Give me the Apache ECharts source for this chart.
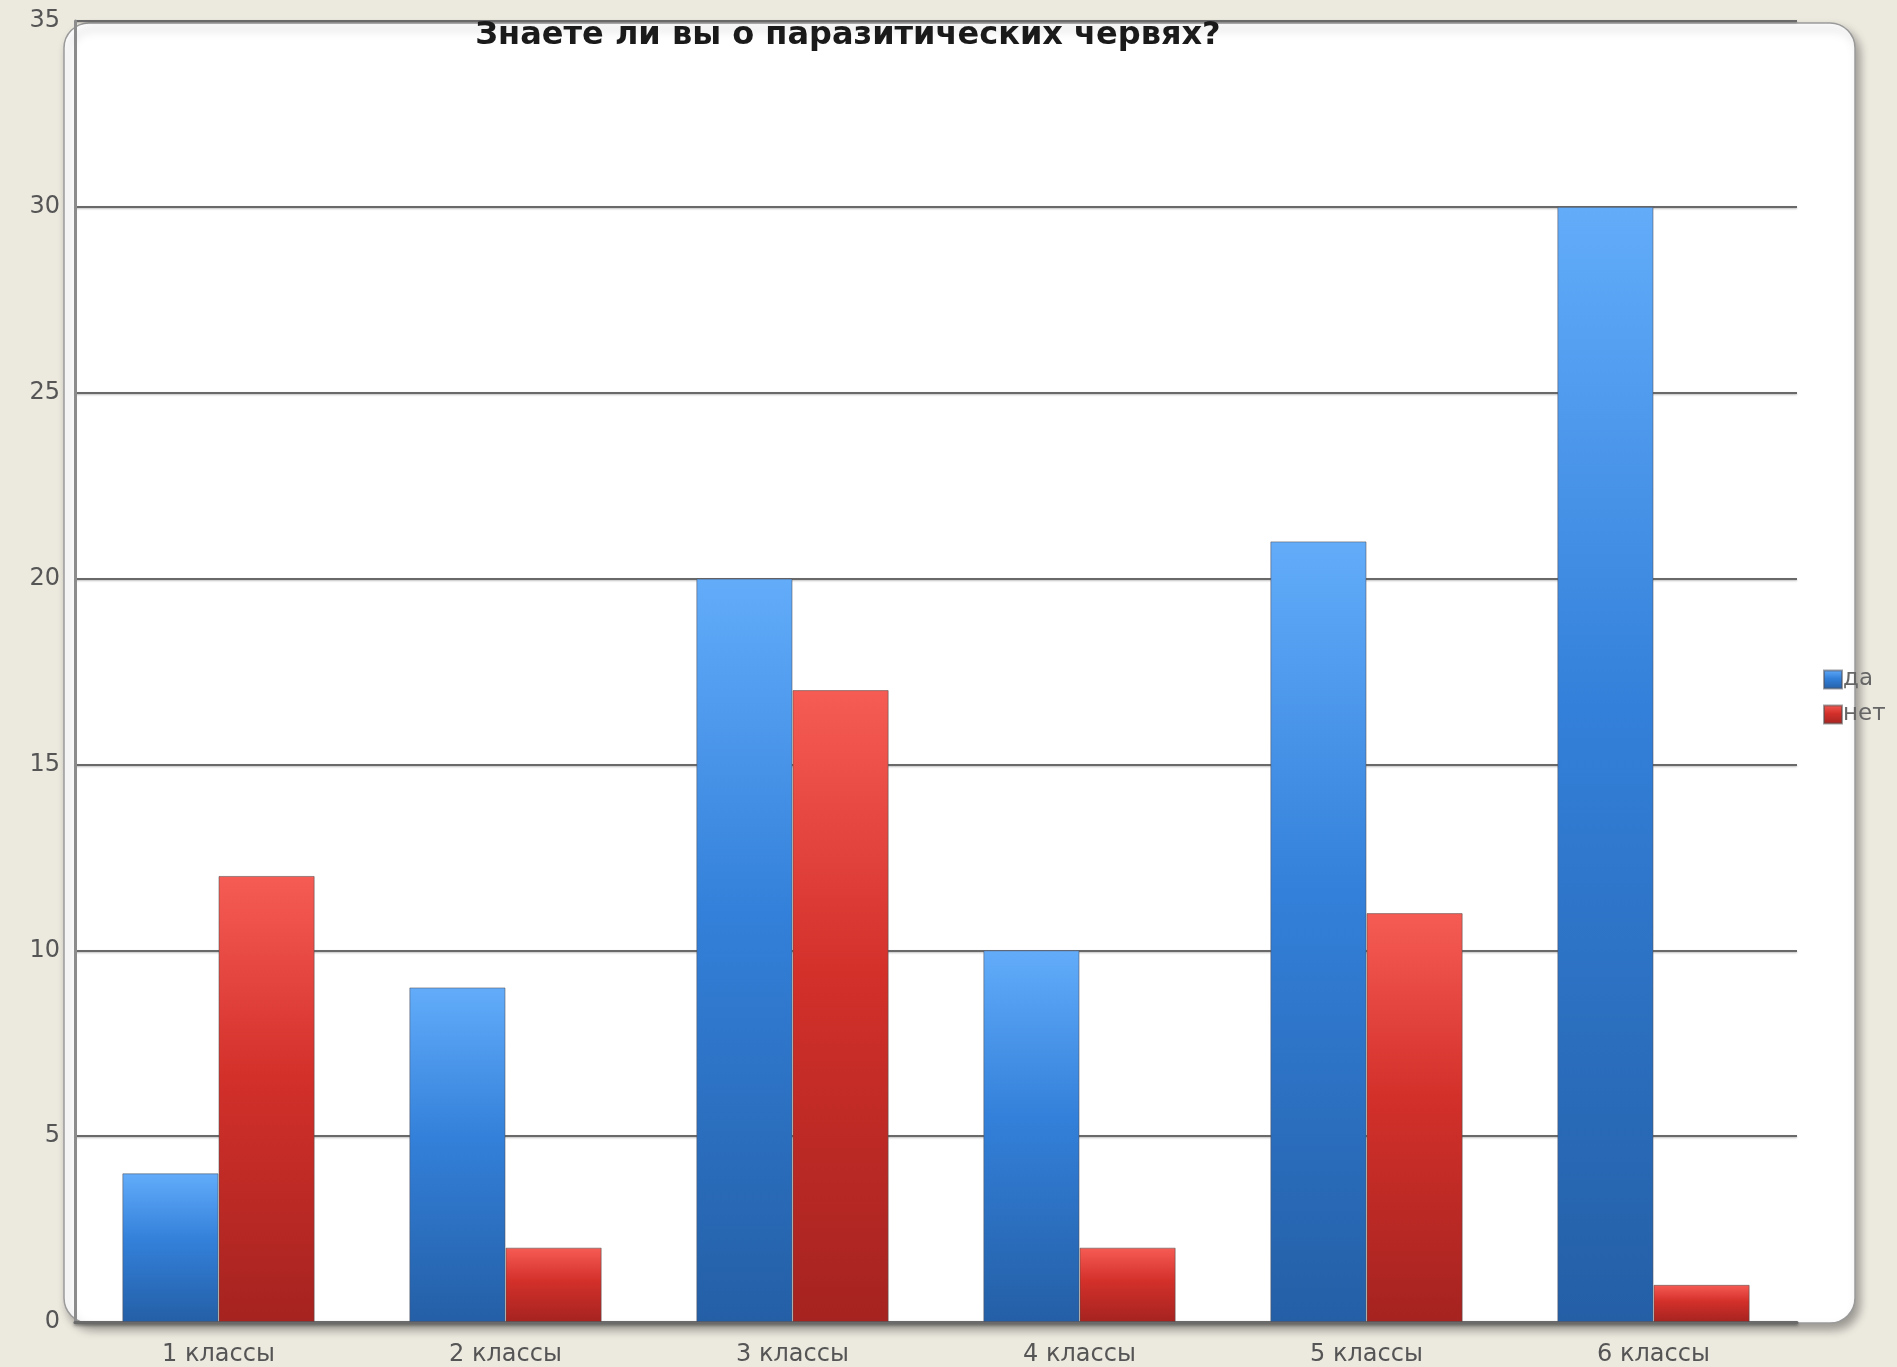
<!DOCTYPE html>
<html>
<head>
<meta charset="utf-8">
<script src="https://cdn.jsdelivr.net/npm/echarts@6/dist/echarts.min.js"></script>
<style>
  html, body { margin: 0; padding: 0; background: #ece9df; }
  #chart { width: 1897px; height: 1367px; }
</style>
</head>
<body>
<div id="chart"></div>
<script>
// данные опроса
const categories = ['1 классы', '2 классы', '3 классы', '4 классы', '5 классы', '6 классы'];
const yesValues = [4, 9, 20, 10, 21, 30];
const noValues = [12, 2, 17, 2, 11, 1];
const titleText = 'Знаете ли вы о паразитических червях?';

const chart = echarts.init(document.getElementById('chart'));

const grad = (top, mid, bottom) => ({
  type: 'linear', x: 0, y: 0, x2: 0, y2: 1,
  colorStops: [
    { offset: 0, color: top },
    { offset: 0.45, color: mid },
    { offset: 1, color: bottom },
  ],
});

const option = {
  backgroundColor: '#ece9df',
  animation: false,
  textStyle: { fontFamily: 'DejaVu Sans' },
  title: {
    text: titleText,
    left: 843,
    textAlign: 'center',
    top: 15,
    textStyle: { fontFamily: 'DejaVu Sans', fontWeight: 'bold', fontSize: 32, color: '#1a1a1a' },
  },
  graphic: [
    {
      type: 'rect',
      z: -10,
      shape: { x: 64, y: 23, width: 1791, height: 1300, r: 25 },
      style: {
        fill: '#ffffff',
        stroke: '#9a9a9a',
        lineWidth: 1.5,
        shadowBlur: 10,
        shadowOffsetX: 4,
        shadowOffsetY: 6,
        shadowColor: 'rgba(0,0,0,0.35)',
      },
    },
  ],
  legend: {
    orient: 'vertical',
    left: 1818,
    top: 663,
    itemWidth: 18,
    itemHeight: 18,
    itemGap: 12,
    textStyle: { color: '#666', fontSize: 23, padding: [0, 0, 0, -4] },
    data: [
      { name: 'да', icon: 'rect' },
      { name: 'нет', icon: 'rect' },
    ],
  },
  grid: { left: 75, right: 100, top: 21, bottom: 45 },
  xAxis: {
    type: 'category',
    data: categories,
    axisTick: { show: false },
    axisLine: {
      lineStyle: {
        color: '#6a6a6a', width: 3,
        shadowColor: 'rgba(0,0,0,0.3)', shadowBlur: 3, shadowOffsetY: 2,
      },
    },
    axisLabel: { color: '#555', fontSize: 24, margin: 21 },
  },
  yAxis: {
    type: 'value',
    min: 0,
    max: 35,
    interval: 5,
    axisLine: { show: true, lineStyle: { color: '#8c8c8c', width: 3 } },
    axisTick: { show: false },
    axisLabel: { color: '#555', fontSize: 24, margin: 15 },
    splitLine: {
      lineStyle: {
        color: '#696969', width: 2,
        shadowColor: 'rgba(0,0,0,0.25)', shadowBlur: 2, shadowOffsetY: 1,
      },
    },
  },
  series: [
    {
      name: 'да',
      type: 'bar',
      data: yesValues,
      barGap: '0%',
      barCategoryGap: '33%',
      itemStyle: {
        color: grad('#62acfa', '#3380da', '#245fa6'),
        borderColor: 'rgba(80,80,90,0.55)',
        borderWidth: 1,
      },
    },
    {
      name: 'нет',
      type: 'bar',
      data: noValues,
      itemStyle: {
        color: grad('#f65c54', '#d3302a', '#a52320'),
        borderColor: 'rgba(80,80,80,0.55)',
        borderWidth: 1,
      },
    },
  ],
};

chart.setOption(option);
window.addEventListener('resize', () => chart.resize());
</script>
</body>
</html>
